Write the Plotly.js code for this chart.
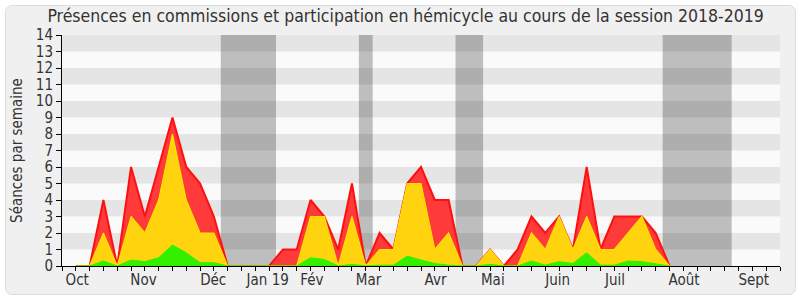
<!DOCTYPE html>
<html>
<head>
<meta charset="utf-8">
<script src="https://cdn.plot.ly/plotly-3.0.1.min.js"></script>
<style>
  html, body { margin: 0; padding: 0; background: #ffffff; }
  #frame { position: absolute; left: 5px; top: 5px; width: 789px; height: 288px;
           background: #f0f0f0; border: 1px solid #dcdcdc; border-radius: 7px; }
  #chart { position: absolute; left: 0; top: 0; width: 800px; height: 300px; }
</style>
</head>
<body>
<div id="frame"></div>
<div id="chart"></div>
<script>
// Week index (0 = first week of October 2018)
const weeks = [];
for (let i = 0; i <= 43; i++) weeks.push(i);

// Total weekly activity (red), commission presence (yellow), hemicycle participation (green)
const redValues    = [0,0,4,0,6,3,6,9,6,5,3,0,0,0,0,1,1,4,3,1,5,0,2,1,5,6,4,4,0,0,1,0,1,3,2,3,1,6,1,3,3,3,2,0];
const yellowValues = [0,0,2,0,3,2,4,8,4,2,2,0,0,0,0,0,0,3,3,0,3,0,1,1,5,5,1,2,0,0,1,0,0,2,1,3,1,3,1,1,2,3,1,0];
const greenValues  = [0,0,0.3,0,0.36,0.26,0.5,1.27,0.8,0.2,0.2,0,0,0,0,0,0,0.5,0.4,0,0.1,0,0.05,0.05,0.6,0.36,0.15,0.05,0,0,0.1,0,0,0.3,0.05,0.26,0.15,0.8,0.05,0.05,0.3,0.26,0.15,0];

// Month labels and their positions on the week scale
const monthLabels = ["Oct","Nov","Déc","Jan 19","Fév","Mar","Avr","Mai","Juin","Juil","Août","Sept"];
const monthPos    = [0.1, 4.9, 9.95, 13.9, 17.1, 21.2, 26.05, 30.2, 34.9, 39.05, 44.05, 49.1];

// Parliamentary recess periods (week positions)
const holidayStart = [10.5, 20.5, 27.5, 42.5];
const holidayEnd   = [14.5, 21.5, 29.5, 47.5];

const yTicks = [0,1,2,3,4,5,6,7,8,9,10,11,12,13,14];

const shapes = [];
for (let i = 0; i < holidayStart.length; i++) {
  shapes.push({type:'rect', layer:'below', xref:'x', yref:'paper',
    x0:holidayStart[i], x1:holidayEnd[i], y0:0, y1:1,
    fillcolor:'#bebebe', line:{width:0}});
}
for (let v = 1; v < 14; v += 2) {
  shapes.push({type:'rect', layer:'below', xref:'paper', yref:'y',
    x0:0, x1:1, y0:v, y1:v+1, fillcolor:'rgba(0,0,0,0.083)', line:{width:0}});
}

const traces = [
  {x: weeks, y: redValues, type:'scatter', mode:'lines', fill:'tozeroy',
   line:{color:'#ff1010', width:2}, fillcolor:'#ff3a3a', hoverinfo:'skip'},
  {x: weeks, y: yellowValues, type:'scatter', mode:'lines', fill:'tozeroy',
   line:{color:'#ffe200', width:1.2}, fillcolor:'#ffd30d', hoverinfo:'skip'},
  {x: weeks, y: greenValues, type:'scatter', mode:'lines', fill:'tozeroy',
   line:{color:'#2ef000', width:1}, fillcolor:'#33f000', hoverinfo:'skip'}
];

const fontFam = '"DejaVu Sans Condensed", "DejaVu Sans", sans-serif';
const layout = {
  width: 800, height: 300,
  paper_bgcolor: 'rgba(0,0,0,0)',
  plot_bgcolor: '#fafafa',
  margin: {l:62, r:20, t:35, b:34},
  showlegend: false,
  font: {family: fontFam, color:'#333333', size:15},
  title: {text:'Présences en commissions et participation en hémicycle au cours de la session 2018-2019',
          font:{family:fontFam, size:17.5, color:'#333333'},
          x:0.507, xanchor:'center', y:0.947, yanchor:'middle'},
  xaxis: {range:[-1,51], showgrid:false, zeroline:false, fixedrange:true,
          tickmode:'array', tickvals: monthPos, ticktext: monthLabels, ticks:'',
          tickfont:{size:15, color:'#333333'},
          showline:true, linecolor:'#000000', linewidth:1,
          minor:{tickmode:'linear', tick0:0, dtick:1, ticks:'outside', ticklen:4, tickcolor:'#000000', showgrid:false}},
  xaxis2: {range:[-1,51], overlaying:'x', side:'top', anchor:'y', showgrid:false, zeroline:false,
           tickmode:'linear', tick0:0, dtick:1, ticks:'outside', ticklen:2, tickcolor:'#000000',
           showticklabels:false, showline:false},
  yaxis: {range:[0,14], showgrid:false, zeroline:false, fixedrange:true,
          tickmode:'array', tickvals:yTicks, ticks:'outside', ticklen:5, tickcolor:'#000000',
          tickfont:{size:15, color:'#333333'},
          showline:true, linecolor:'#000000', linewidth:1,
          title:{text:'Séances par semaine', font:{size:15, color:'#333333'}, standoff:9}},
  shapes: shapes
};

Plotly.newPlot('chart', traces, layout, {staticPlot:true, displayModeBar:false});
</script>
</body>
</html>
